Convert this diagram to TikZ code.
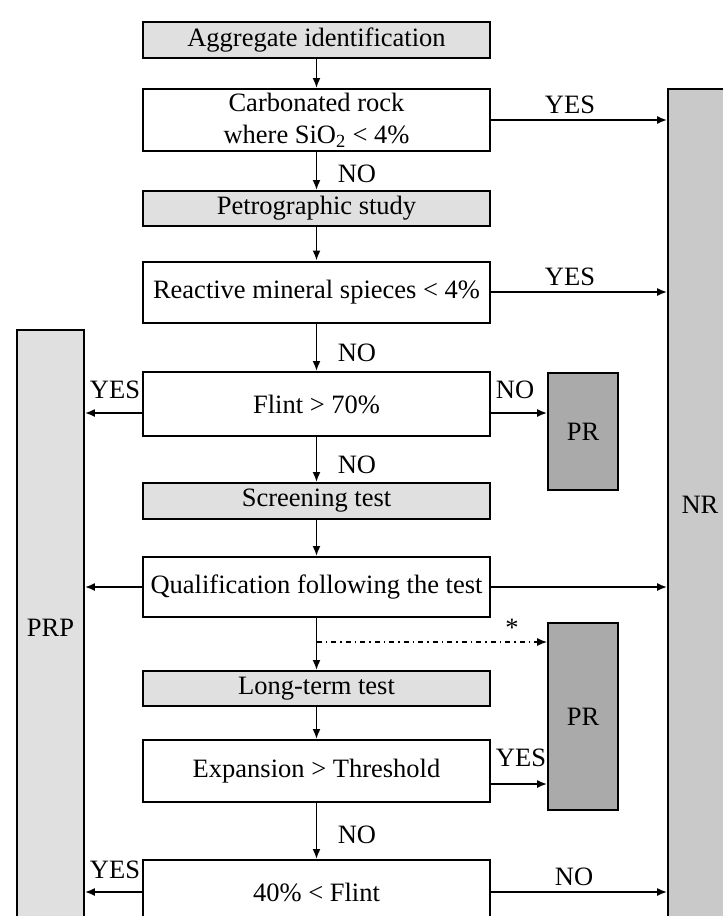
\documentclass[tikz,border=0pt]{standalone}
\usepackage{fontspec}
\setmainfont{Liberation Serif}
\usetikzlibrary{arrows.meta,calc}

\definecolor{stepgray}{RGB}{224,224,224}
\definecolor{nrgray}{RGB}{201,201,201}
\definecolor{prgray}{RGB}{170,170,170}

\tikzset{
  every node/.style={font=\fontsize{26.5}{32}\selectfont, inner sep=0pt},
  stepbox/.style={draw=black, line width=2pt, fill=stepgray, minimum width=347pt, minimum height=36pt},
  testbox/.style={draw=black, line width=2pt, fill=white, minimum width=347pt, minimum height=62pt, align=center},
  sidebox/.style={draw=black, line width=1.8pt},
  arr/.style={line width=1.7pt, -{Latex[length=10pt,width=8pt]}},
  dashdot/.style={line width=1.3pt, dash pattern=on 5pt off 4pt on 1.5pt off 4pt}
}

\begin{document}
\begin{tikzpicture}[x=1pt,y=-1pt]
  \useasboundingbox (0,0) rectangle (723,916);
  \clip (0,0) rectangle (723,916);

  % main column
  \node [stepbox] (agg) at (316.5,40) {Aggregate identification};
  \node [testbox] (carb) at (316.5,120) {Carbonated rock\\where SiO\textsubscript{2} < 4\%};
  \node [stepbox, minimum height=35pt] (petro) at (316.5,208.5) {Petrographic study};
  \node [testbox, minimum height=61pt] (react) at (316.5,292) {Reactive mineral spieces < 4\%};
  \node [testbox, minimum height=64pt] (flint) at (316.5,404) {Flint > 70\%};
  \node [stepbox] (screen) at (316.5,501) {Screening test};
  \node [testbox, minimum height=60pt] (qual) at (316.5,587) {Qualification following the test};
  \node [stepbox, minimum height=35pt] (longt) at (316.5,688.5) {Long-term test};
  \node [testbox] (expan) at (316.5,771) {Expansion > Threshold};
  \node [testbox, minimum height=64pt] (flintlow) at (316.5,892) {40\% < Flint};

  % side boxes
  \node [sidebox, fill=nrgray, minimum width=64pt, minimum height=832pt] (nr) at (700,505) {NR};
  \node [sidebox, fill=stepgray, minimum width=67pt, minimum height=596pt] (prp) at (50.5,628) {PRP};
  \node [sidebox, fill=prgray, minimum width=70pt, minimum height=117pt] (pr1) at (583,431.5) {PR};
  \node [sidebox, fill=prgray, minimum width=70pt, minimum height=187pt] (pr2) at (583,716.5) {PR};

  % down arrows
  \draw [arr] (agg) -- (carb);
  \draw [arr] (carb) -- (petro);
  \draw [arr] (petro) -- (react);
  \draw [arr] (react) -- (flint);
  \draw [arr] (flint) -- (screen);
  \draw [arr] (screen) -- (qual);
  \draw [arr] (qual) -- (longt);
  \draw [arr] (longt) -- (expan);
  \draw [arr] (expan) -- (flintlow);

  % side arrows
  \coordinate (fl) at ($(flint.west)+(0,9)$);
  \coordinate (fr) at ($(flint.east)+(0,9)$);
  \coordinate (er) at ($(expan.east)+(0,13)$);
  \coordinate (split) at (316.5,642);
  \draw [arr] (carb.east) -- (carb.east -| nr.west);
  \draw [arr] (react.east) -- (react.east -| nr.west);
  \draw [arr] (fl) -- (fl -| prp.east);
  \draw [arr] (fr) -- (fr -| pr1.west);
  \draw [arr] (qual.west) -- (qual.west -| prp.east);
  \draw [arr] (qual.east) -- (qual.east -| nr.west);
  \draw [arr, dashdot] (split) -- (split -| pr2.west);
  \draw [arr] (er) -- (er -| pr2.west);
  \draw [arr] (flintlow.west) -- (flintlow.west -| prp.east);
  \draw [arr] (flintlow.east) -- (flintlow.east -| nr.west);

  % labels
  \node (yes1) at (570,105) {YES};
  \node (no1) at (357,174) {NO};
  \node (yes2) at (570,277) {YES};
  \node (no2) at (357,353) {NO};
  \node (yes3) at (115,390) {YES};
  \node (no3) at (515,390) {NO};
  \node (no4) at (357,465) {NO};
  \node (star) at (512,628) {*};
  \node (yes4) at (521,758) {YES};
  \node (no5) at (357,835) {NO};
  \node (yes5) at (115,870) {YES};
  \node (no6) at (574,877) {NO};
\end{tikzpicture}
\end{document}
